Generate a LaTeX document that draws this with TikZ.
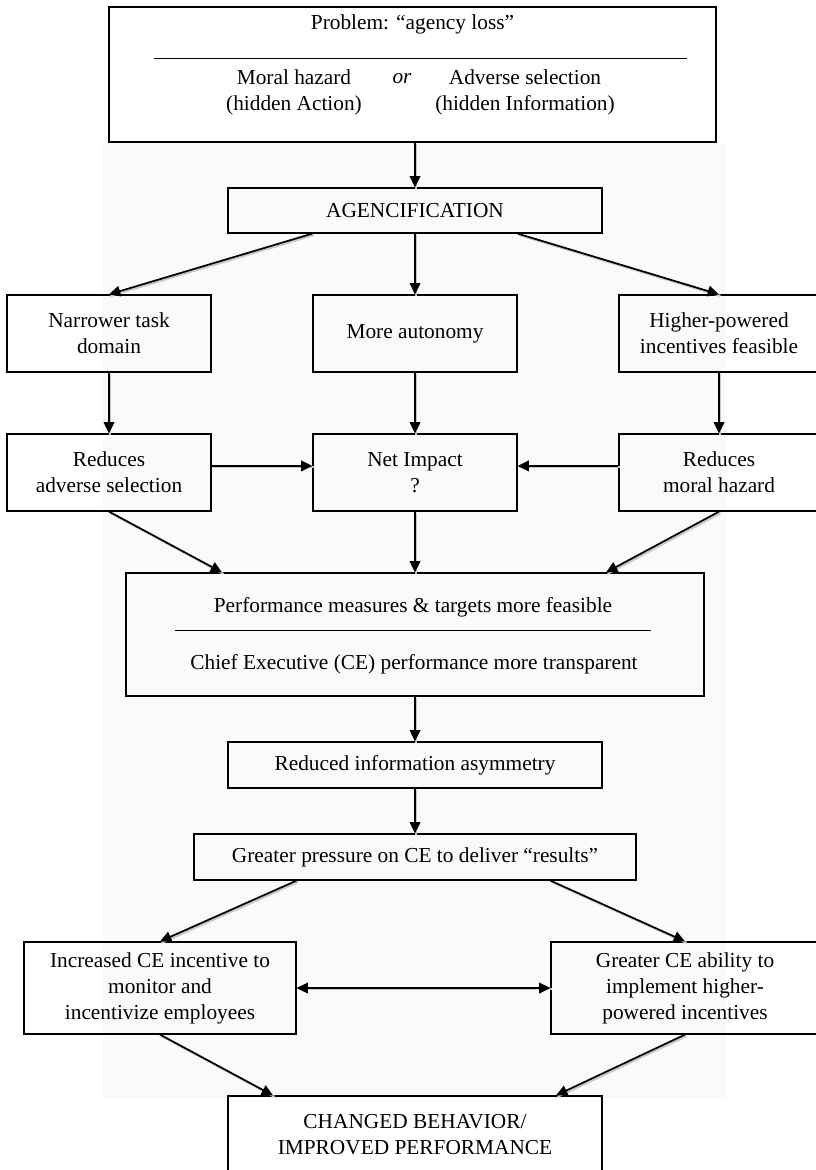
\documentclass[tikz,border=0pt]{standalone}
\usepackage{fontspec}
\setmainfont{Liberation Serif}
\usetikzlibrary{arrows.meta,calc}

\tikzset{
  box/.style={draw, line width=0.9pt, align=center, inner sep=0pt, font=\fontsize{16}{19.5}\selectfont},
  cell/.style={box, minimum width=153pt, minimum height=57.75pt},
  wide/.style={box, minimum width=280.5pt, minimum height=34.5pt},
  txt/.style={inner sep=0pt, align=center, font=\fontsize{16}{19.5}\selectfont},
  tip/.style={-{Triangle[length=8.5pt,width=8pt]}},
  link/.style={line width=1.3pt, tip, preaction={draw=black!22, line width=1.5pt, -, transform canvas={xshift=1.1pt,yshift=-1.1pt}}},
}

\begin{document}
\begin{tikzpicture}[x=0.75pt,y=-0.75pt]
\useasboundingbox (0,0) rectangle (816,1170);
% light backdrop
\fill[black!2] (103,143) rectangle (726,1098);

% problem box
\node[box, minimum width=455.25pt, minimum height=101.25pt] (problem) at (412.5,74.5) {};
\node[txt] (ptitle) at (412.5,24) {Problem: “agency loss”};
\draw[line width=0.7pt] (154,58) -- (687,58);
\node[txt] (moral) at (294,92) {Moral hazard\\(hidden Action)};
\node[txt] (orword) at (402,79) {\itshape or};
\node[txt] (adverse) at (525,92) {Adverse selection\\(hidden Information)};

\node[box, minimum width=280.5pt, minimum height=33.75pt] (agen) at (415,210.5) {AGENCIFICATION};

% first two rows
\node[cell] (narrow) at (109,333.5) {Narrower task\\domain};
\node[cell] (autonomy) at (415,333.5) {More autonomy};
\node[cell, minimum width=150pt] (higher) at (719,333.5) {Higher-powered\\incentives feasible};
\node[cell] (redas) at (109,472.5) {Reduces\\adverse selection};
\node[cell] (net) at (415,472.5) {Net Impact\\?};
\node[cell, minimum width=150pt] (redmh) at (719,472.5) {Reduces\\moral hazard};

% performance box
\node[box, minimum width=433.5pt, minimum height=92.25pt] (perf) at (415,634.5) {};
\node[txt] (perfa) at (413,607) {Performance measures \& targets more feasible};
\draw[line width=0.7pt] (175,630) -- (651,630);
\node[txt] (perfb) at (414,664) {Chief Executive (CE) performance more transparent};

\node[wide] (reduced) at (415,765) {Reduced information asymmetry};
\node[box, minimum width=331.5pt, minimum height=34.5pt] (press) at (415,857) {Greater pressure on CE to deliver “results”};
\node[box, minimum width=204pt, minimum height=69pt] (incl) at (160,988) {Increased CE incentive to\\monitor and\\incentivize employees};
\node[box, minimum width=201pt, minimum height=69pt] (incr) at (685,988) {Greater CE ability to\\implement higher-\\powered incentives};
\node[box, minimum width=280.5pt, minimum height=57.75pt] (changed) at (415,1134.5) {CHANGED BEHAVIOR/\\IMPROVED PERFORMANCE};

% arrows
\draw[link] (agen.north |- problem.south) -- (agen.north);
\draw[link] (agen.south -| autonomy.west) -- (narrow.north);
\draw[link] (agen.south) -- (autonomy.north);
\draw[link] (agen.south -| autonomy.east) -- (higher.north);
\draw[link] (narrow.south) -- (redas.north);
\draw[link] (autonomy.south) -- (net.north);
\draw[link] (higher.south) -- (redmh.north);
\draw[link] ([yshift=4.9pt]redas.east) -- ([yshift=4.9pt]net.west);
\draw[link] ([yshift=4.9pt]redmh.west) -- ([yshift=4.9pt]net.east);
\draw[link] (redas.south) -- ($(perf.north)+(-193,0)$);
\draw[link] (net.south) -- (perf.north);
\draw[link] (redmh.south) -- ($(perf.north)+(191,0)$);
\draw[link] (perf.south) -- (reduced.north);
\draw[link] (reduced.south) -- (press.north);
\draw[link] (press.south -| incl.east) -- (incl.north);
\draw[link] (press.south -| incr.west) -- (incr.north);
\draw[link, {Triangle[length=8.5pt,width=8pt]}-{Triangle[length=8.5pt,width=8pt]}] (incl.east) -- (incr.west);
\draw[link] (incl.south) -- ($(changed.north)+(-142,0)$);
\draw[link] (incr.south) -- ($(changed.north)+(141,0)$);
\end{tikzpicture}
\end{document}
